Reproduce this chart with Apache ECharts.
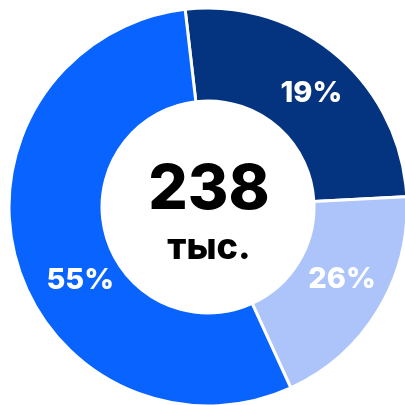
<!DOCTYPE html>
<html>
<head>
<meta charset="utf-8">
<script src="https://cdn.jsdelivr.net/npm/echarts@6/dist/echarts.min.js"></script>
<style>
html,body{margin:0;padding:0;background:#fff;}
#chart{width:405px;height:405px;}
</style>
</head>
<body>
<div id="chart"></div>
<script>
// Arc shares (clockwise from the top)
const sliceNames = ['navy', 'light', 'bright'];
const sliceShares = [26, 19, 55];
// Texts printed on the slices, as shown in the picture
const sliceLabels = ['19%', '26%', '55%'];
const sliceColors = ['#043480', '#adc4fa', '#0863ff'];
const centerValue = '238';
const centerUnit = 'тыс.';

const chart = echarts.init(document.getElementById('chart'), null, {renderer: 'canvas'});
const font = 'Inter, "Liberation Sans", Arial, sans-serif';
const labelShift = [{dx: 3, dy: 5}, {dx: 1, dy: -8}, {dx: 22, dy: 31}];

chart.setOption({
  animation: false,
  backgroundColor: '#ffffff',
  series: [{
    type: 'pie',
    center: [208, 207],
    radius: [106, 199],
    startAngle: 96.6,
    clockwise: true,
    silent: true,
    itemStyle: {borderColor: '#ffffff', borderWidth: 3},
    label: {
      show: true,
      position: 'inside',
      color: '#ffffff',
      fontFamily: font,
      fontWeight: 800,
      fontSize: 29,
      formatter: p => sliceLabels[p.dataIndex]
    },
    labelLine: {show: false},
    labelLayout: function (p) {
      return labelShift[p.dataIndex] || {};
    },
    data: sliceShares.map((v, i) => ({
      name: sliceNames[i],
      value: v,
      itemStyle: {color: sliceColors[i]}
    }))
  }],
  graphic: [
    {type: 'text', x: 209, y: 190, style: {text: centerValue, fill: '#000', font: '800 62px ' + font, textAlign: 'center', textVerticalAlign: 'middle'}},
    {type: 'text', x: 209, y: 248, style: {text: centerUnit, fill: '#000', font: '800 36px ' + font, textAlign: 'center', textVerticalAlign: 'middle'}}
  ]
});
</script>
</body>
</html>
